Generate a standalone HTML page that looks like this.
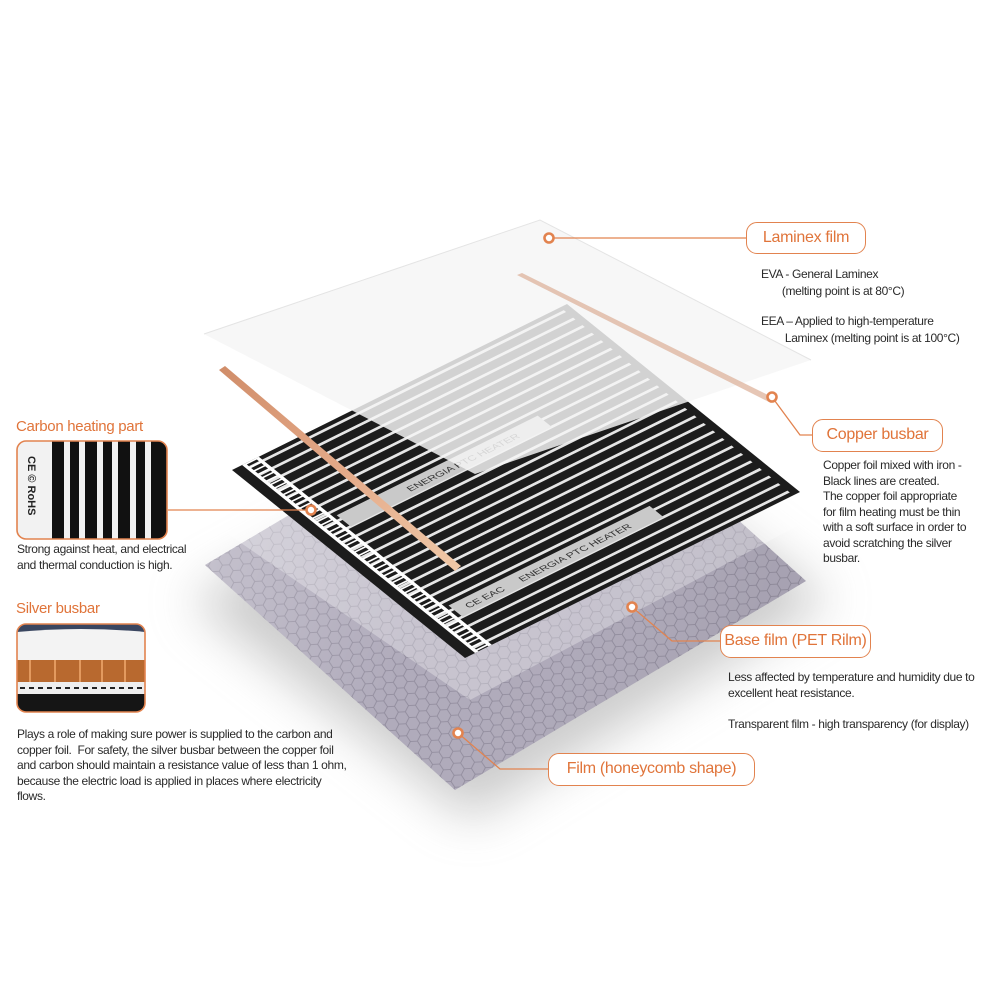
<!DOCTYPE html>
<html><head><meta charset="utf-8"><style>
body{margin:0;background:#fff;}
#w{position:relative;width:1000px;height:1000px;overflow:hidden;background:#fff;font-family:"Liberation Sans",sans-serif;}
.t{position:absolute;font-size:12px;color:#2a2a2a;line-height:15.5px;letter-spacing:-0.35px;white-space:nowrap;}
.box{position:absolute;border:1.6px solid #e2834f;border-radius:11px;color:#e0743a;font-size:16px;letter-spacing:-0.3px;text-align:center;box-sizing:border-box;background:#fff;}
.h{position:absolute;color:#e0743a;font-size:15px;letter-spacing:-0.3px;}
</style></head><body><div id="w">
<svg width="1000" height="1000" style="position:absolute;left:0;top:0">
<defs>
<filter id="bl" x="-50%" y="-50%" width="200%" height="200%"><feGaussianBlur stdDeviation="25"/></filter>
<pattern id="hex" width="21" height="12" patternUnits="userSpaceOnUse" patternTransform="rotate(-3)">
<path d="M0,6 L3.5,0 L10.5,0 L14,6 L10.5,12 L3.5,12 Z M14,6 L21,6" fill="none" stroke="#8e899a" stroke-width="0.8"/>
</pattern>
<linearGradient id="hg" x1="0" y1="0" x2="1" y2="0.3"><stop offset="0" stop-color="#fff" stop-opacity="0.35"/><stop offset="0.5" stop-color="#fff" stop-opacity="0"/><stop offset="1" stop-color="#000" stop-opacity="0.05"/></linearGradient>
<linearGradient id="cu" x1="0" y1="0" x2="1" y2="1"><stop offset="0" stop-color="#d08d69"/><stop offset="0.5" stop-color="#e4a988"/><stop offset="1" stop-color="#f0c9a8"/></linearGradient>
</defs>
<polygon points="190,600 560,400 830,600 470,820" fill="#9a9a9a" opacity="0.5" filter="url(#bl)"/>
<polygon points="205,565 556,356 806,581 455,790" fill="#b0abbb"/>
<polygon points="205,565 556,356 806,581 455,790" fill="url(#hex)"/>
<polygon points="205,565 556,356 806,581 455,790" fill="url(#hg)"/>
<polygon points="200,515 540,330 818,515 470,700" fill="#fff" opacity="0.3"/>
<g transform="matrix(3.35,-1.66,2.33,1.88,232,470)">
<rect x="0" y="0" width="100" height="100" fill="#1c1c1c"/>
<g stroke="#e6e6e6" stroke-width="1.0">
<line x1="4" y1="2" x2="98" y2="2"/><line x1="4" y1="6" x2="98" y2="6"/><line x1="4" y1="10" x2="98" y2="10"/><line x1="4" y1="14" x2="98" y2="14"/><line x1="4" y1="18" x2="98" y2="18"/><line x1="4" y1="22" x2="98" y2="22"/><line x1="4" y1="26" x2="98" y2="26"/><line x1="4" y1="30" x2="98" y2="30"/><line x1="4" y1="34" x2="98" y2="34"/><line x1="4" y1="38" x2="98" y2="38"/><line x1="4" y1="42" x2="98" y2="42"/><line x1="4" y1="46" x2="98" y2="46"/><line x1="4" y1="50" x2="98" y2="50"/><line x1="4" y1="54" x2="98" y2="54"/><line x1="4" y1="58" x2="98" y2="58"/><line x1="4" y1="62" x2="98" y2="62"/><line x1="4" y1="66" x2="98" y2="66"/><line x1="4" y1="70" x2="98" y2="70"/><line x1="4" y1="74" x2="98" y2="74"/><line x1="4" y1="78" x2="98" y2="78"/><line x1="4" y1="82" x2="98" y2="82"/><line x1="4" y1="86" x2="98" y2="86"/><line x1="4" y1="90" x2="98" y2="90"/><line x1="4" y1="94" x2="98" y2="94"/><line x1="4" y1="98" x2="98" y2="98"/>
</g>
<rect x="9" y="32" width="60" height="6" fill="#c9c9c9"/>
<rect x="9" y="80" width="60" height="6" fill="#c9c9c9"/>
<text x="28" y="36.3" font-size="3" fill="#333" font-family="Liberation Sans">ENERGIA PTC HEATER</text>
<text x="28" y="84.3" font-size="3" fill="#333" font-family="Liberation Sans">ENERGIA PTC HEATER</text>
<text x="12" y="84.3" font-size="3" fill="#333" font-family="Liberation Sans">CE EAC</text>
<rect x="3" y="0" width="1" height="100" fill="#fff"/><rect x="7" y="0" width="1" height="100" fill="#fff"/>
<line x1="5.5" y1="0" x2="5.5" y2="100" stroke="#fff" stroke-width="4" stroke-dasharray="0.6 1.2"/>
</g>
<polygon points="204,334 540,220 811,360 475,474" fill="#f5f5f5" opacity="0.84"/>
<polyline points="204,334 540,220 811,360" fill="none" stroke="#e4e4e4" stroke-width="1"/>
<polygon points="517,275 522,273 776,399 771,403" fill="#dcae95" opacity="0.7"/>
<polygon points="219,370 225,366 461,566 455,571" fill="url(#cu)"/>
<g stroke="#e2834f" stroke-width="1.3" fill="none">
<line x1="549" y1="238" x2="747" y2="238"/>
<polyline points="772,397 800,435 812,435"/>
<line x1="168" y1="510" x2="311" y2="510"/>
<polyline points="632,607 672,641 721,641"/>
<polyline points="458,733 500,769 549,769"/>
</g>
<g fill="#fff" stroke="#e2834f" stroke-width="2.6">
<circle cx="549" cy="238" r="4.5"/><circle cx="772" cy="397" r="4.5"/><circle cx="311" cy="510" r="4.5"/><circle cx="632" cy="607" r="4.5"/><circle cx="458" cy="733" r="4.5"/>
</g>
<g>
<clipPath id="c1"><rect x="17" y="441" width="150" height="98" rx="9"/></clipPath>
<g clip-path="url(#c1)">
<rect x="17" y="441" width="150" height="98" fill="#f2f2f2"/>
<rect x="52" y="441" width="12" height="98" fill="#111"/><rect x="70" y="441" width="9" height="98" fill="#111"/><rect x="85" y="441" width="12" height="98" fill="#111"/><rect x="103" y="441" width="9" height="98" fill="#111"/><rect x="118" y="441" width="12" height="98" fill="#111"/><rect x="136" y="441" width="9" height="98" fill="#111"/><rect x="151" y="441" width="16" height="98" fill="#111"/>
<text transform="translate(28,456) rotate(90)" font-size="11" font-weight="bold" fill="#222" font-family="Liberation Sans">CE  ©  RoHS</text>
</g>
<rect x="17" y="441" width="150" height="98" rx="9" fill="none" stroke="#e2834f" stroke-width="1.6"/>
</g>
<g>
<clipPath id="c2"><rect x="17" y="624" width="128" height="88" rx="9"/></clipPath>
<g clip-path="url(#c2)">
<rect x="17" y="624" width="128" height="88" fill="#fff"/>
<rect x="17" y="624" width="128" height="8" fill="#3a4660"/>
<path d="M17,632 Q81,626 145,632 L145,660 L17,660 Z" fill="#f3f3f3"/>
<rect x="17" y="660" width="128" height="22" fill="#b8692f"/>
<g stroke="#e39a5f" stroke-width="2"><line x1="30" y1="660" x2="30" y2="682"/><line x1="55" y1="660" x2="55" y2="682"/><line x1="80" y1="660" x2="80" y2="682"/><line x1="102" y1="660" x2="102" y2="682"/><line x1="125" y1="660" x2="125" y2="682"/></g>
<rect x="17" y="682" width="128" height="12" fill="#eee"/>
<line x1="20" y1="688" x2="145" y2="688" stroke="#222" stroke-width="2" stroke-dasharray="5 4"/>
<rect x="17" y="694" width="128" height="18" fill="#151515"/>
</g>
<rect x="17" y="624" width="128" height="88" rx="9" fill="none" stroke="#e2834f" stroke-width="1.6"/>
</g>
</svg>

<div class="box" style="left:746px;top:222px;width:120px;height:32px;line-height:29px;">Laminex film</div>
<div class="box" style="left:812px;top:419px;width:131px;height:33px;line-height:30px;">Copper busbar</div>
<div class="box" style="left:720px;top:625px;width:151px;height:33px;line-height:30px;">Base film (PET Rilm)</div>
<div class="box" style="left:548px;top:753px;width:207px;height:33px;line-height:30px;">Film (honeycomb shape)</div>

<div class="t" style="left:761px;top:266px;line-height:16.5px">EVA - General Laminex<br>&nbsp;&nbsp;&nbsp;&nbsp;&nbsp;&nbsp;&nbsp;(melting point is at 80°C)</div>
<div class="t" style="left:761px;top:313px;line-height:16.5px">EEA – Applied to high-temperature<br>&nbsp;&nbsp;&nbsp;&nbsp;&nbsp;&nbsp;&nbsp;&nbsp;Laminex (melting point is at 100°C)</div>
<div class="t" style="left:823px;top:458px">Copper foil mixed with iron -<br>Black lines are created.<br>The copper foil appropriate<br>for film heating must be thin<br>with a soft surface in order to<br>avoid scratching the silver<br>busbar.</div>
<div class="t" style="left:728px;top:670px">Less affected by temperature and humidity due to<br>excellent heat resistance.<br><br>Transparent film - high transparency (for display)</div>

<div class="h" style="left:16px;top:418px">Carbon heating part</div>
<div class="t" style="left:17px;top:542px">Strong against heat, and electrical<br>and thermal conduction is high.</div>
<div class="h" style="left:16px;top:600px">Silver busbar</div>
<div class="t" style="left:17px;top:727px">Plays a role of making sure power is supplied to the carbon and<br>copper foil.&nbsp; For safety, the silver busbar between the copper foil<br>and carbon should maintain a resistance value of less than 1 ohm,<br>because the electric load is applied in places where electricity<br>flows.</div>
</div></body></html>
